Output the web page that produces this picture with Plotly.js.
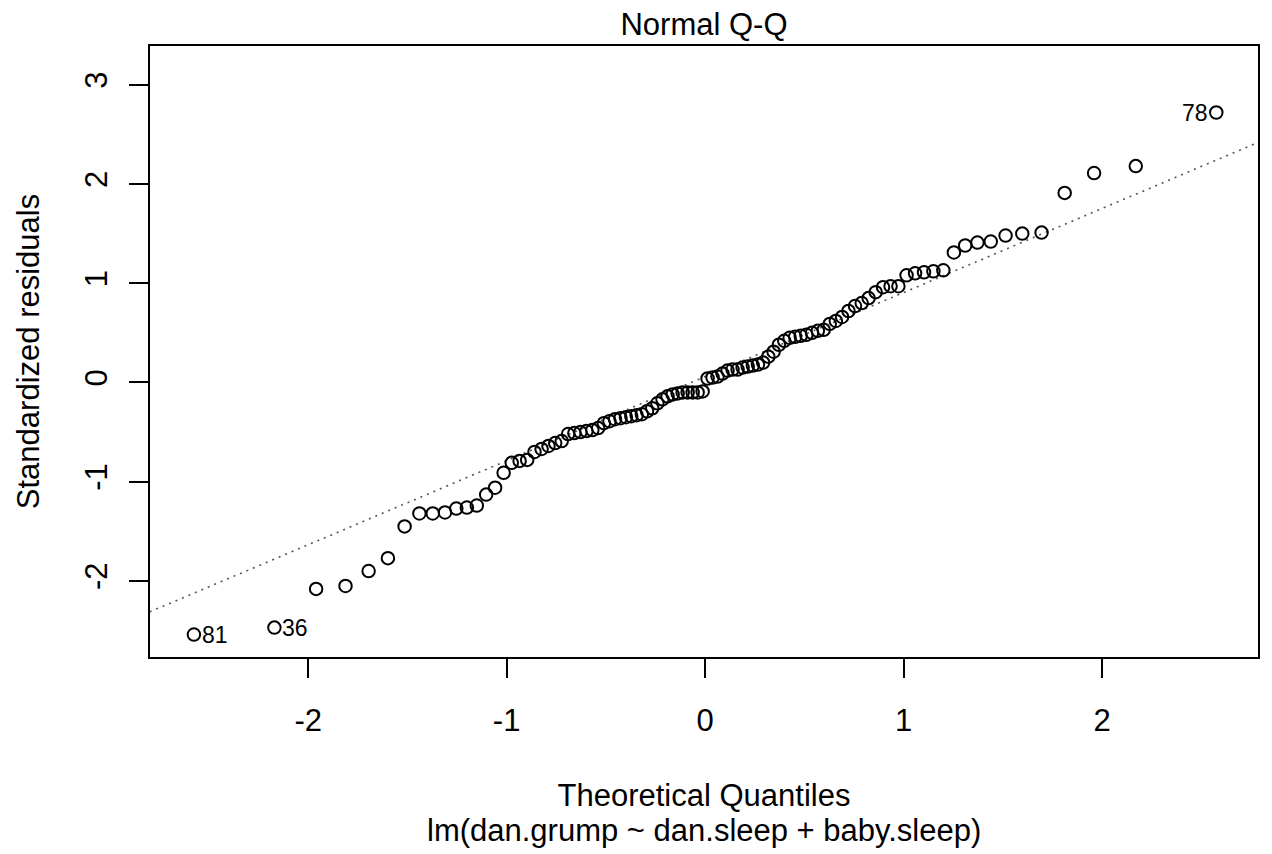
<!DOCTYPE html>
<html>
<head>
<meta charset="utf-8">
<script src="https://cdn.plot.ly/plotly-3.0.1.min.js"></script>
<style>html,body{margin:0;padding:0;background:#fff;}#chart{width:1272px;height:854px;}</style>
</head>
<body>
<div id="chart"></div>
<script>
// Theoretical normal quantiles (x) read/known for n = 100
var theoretical = [-2.5758,-2.1701,-1.9600,-1.8119,-1.6954,-1.5982,-1.5141,-1.4395,-1.3722,-1.3106,
  -1.2536,-1.2004,-1.1503,-1.1031,-1.0581,-1.0152,-0.9741,-0.9346,-0.8965,-0.8596,
  -0.8239,-0.7892,-0.7554,-0.7225,-0.6903,-0.6588,-0.6280,-0.5978,-0.5681,-0.5388,
  -0.5101,-0.4817,-0.4538,-0.4261,-0.3989,-0.3719,-0.3451,-0.3186,-0.2924,-0.2663,
  -0.2404,-0.2147,-0.1891,-0.1637,-0.1383,-0.1130,-0.0878,-0.0627,-0.0376,-0.0125,
  0.0125,0.0376,0.0627,0.0878,0.1130,0.1383,0.1637,0.1891,0.2147,0.2404,
  0.2663,0.2924,0.3186,0.3451,0.3719,0.3989,0.4261,0.4538,0.4817,0.5101,
  0.5388,0.5681,0.5978,0.6280,0.6588,0.6903,0.7225,0.7554,0.7892,0.8239,
  0.8596,0.8965,0.9346,0.9741,1.0152,1.0581,1.1031,1.1503,1.2004,1.2536,
  1.3106,1.3722,1.4395,1.5141,1.5982,1.6954,1.8119,1.9600,2.1701,2.5758];

// Sorted standardized residuals (y)
var stdResiduals = [-2.54,-2.47,-2.08,-2.05,-1.90,-1.77,-1.45,-1.32,-1.32,-1.31,
  -1.27,-1.26,-1.24,-1.13,-1.06,-0.91,-0.81,-0.79,-0.78,-0.70,
  -0.67,-0.64,-0.61,-0.59,-0.52,-0.51,-0.50,-0.49,-0.48,-0.46,
  -0.41,-0.39,-0.37,-0.36,-0.35,-0.34,-0.33,-0.32,-0.29,-0.26,
  -0.21,-0.17,-0.14,-0.12,-0.11,-0.10,-0.10,-0.10,-0.10,-0.09,
  0.04,0.05,0.06,0.09,0.12,0.13,0.13,0.15,0.16,0.17,
  0.18,0.20,0.26,0.31,0.38,0.42,0.45,0.46,0.47,0.48,
  0.50,0.52,0.53,0.59,0.62,0.66,0.72,0.77,0.80,0.85,
  0.91,0.96,0.97,0.97,1.08,1.10,1.11,1.12,1.13,1.31,
  1.38,1.41,1.42,1.48,1.50,1.51,1.91,2.11,2.18,2.72];

// Labelled observations: position in sorted list and observation id
var labelIndex = [0, 1, 99];
var labelText = ['81', '36', '78'];
var labelSide = ['right', 'right', 'left'];

var xTicks = [-2, -1, 0, 1, 2];
var yTicks = [-2, -1, 0, 1, 2, 3];

var titleText = 'Normal Q-Q';
var xTitle = 'Theoretical Quantiles';
var yTitle = 'Standardized residuals';
var subCaption = 'lm(dan.grump ~ dan.sleep + baby.sleep)';

// qqline: line through the quartiles (type 7 quantile)
function quantile7(arr, p) {
  var s = arr.slice().sort(function(a,b){return a-b;});
  var h = (s.length - 1) * p, lo = Math.floor(h);
  return s[lo] + (h - lo) * (s[Math.min(lo+1, s.length-1)] - s[lo]);
}
var q1 = quantile7(stdResiduals, 0.25), q3 = quantile7(stdResiduals, 0.75);
var z1 = -0.6744898, z3 = 0.6744898;
var slope = (q3 - q1) / (z3 - z1);
var intercept = q1 - slope * z1;
var lineX = [-4, 4];
var lineY = lineX.map(function(v){ return intercept + slope * v; });

var FONT = '"Liberation Sans", Arial, "DejaVu Sans", sans-serif';

var traces = [
  {
    x: lineX, y: lineY, type: 'scatter', mode: 'lines',
    line: {color: '#555555', width: 1.6, dash: '2px,5px'},
    hoverinfo: 'skip', showlegend: false
  },
  {
    x: theoretical, y: stdResiduals, type: 'scatter', mode: 'markers',
    marker: {symbol: 'circle-open', size: 12.5, color: '#000000', line: {width: 2, color: '#000000'}},
    showlegend: false
  }
];

var annotations = labelIndex.map(function(idx, k){
  var right = labelSide[k] === 'right';
  return {
    x: theoretical[idx], y: stdResiduals[idx], xref: 'x', yref: 'y',
    text: labelText[k], showarrow: false,
    xanchor: right ? 'left' : 'right', yanchor: 'middle',
    xshift: right ? 6 : -6,
    font: {family: FONT, size: 23, color: '#000'}
  };
});
annotations.push({
  x: 0.5, y: (657 - 830) / 611, xref: 'paper', yref: 'paper',
  text: subCaption, showarrow: false, xanchor: 'center', yanchor: 'middle',
  font: {family: FONT, size: 31, color: '#000'}
});

var layout = {
  width: 1272, height: 854,
  margin: {l: 150, r: 14, t: 46, b: 197, pad: 0},
  paper_bgcolor: '#ffffff', plot_bgcolor: '#ffffff',
  font: {family: FONT, size: 31, color: '#000'},
  title: {text: titleText, x: 0.5 * (150 + 1258) / 1272, xanchor: 'center', y: 1 - 24 / 854, yanchor: 'middle',
          font: {family: FONT, size: 31, color: '#000'}},
  xaxis: {
    range: [-2.797, 2.786], tickvals: xTicks, ticktext: xTicks.map(String),
    ticks: 'outside', ticklen: 19, tickwidth: 2, tickcolor: '#000',
    showline: true, linecolor: '#000', linewidth: 2, mirror: true,
    showgrid: false, zeroline: false, ticklabelstandoff: 16,
    tickfont: {family: FONT, size: 31, color: '#000'},
    title: {text: xTitle, standoff: 47, font: {family: FONT, size: 31, color: '#000'}}
  },
  yaxis: {
    range: [-2.766, 3.390], tickvals: yTicks, ticktext: yTicks.map(String),
    ticks: 'outside', ticklen: 19, tickwidth: 2, tickcolor: '#000', tickangle: -90,
    showline: true, linecolor: '#000', linewidth: 2, mirror: true,
    showgrid: false, zeroline: false, ticklabelstandoff: 10,
    tickfont: {family: FONT, size: 31, color: '#000'},
    title: {text: yTitle, standoff: 30, font: {family: FONT, size: 31, color: '#000'}}
  },
  annotations: annotations,
  hovermode: false
};

Plotly.newPlot('chart', traces, layout, {displayModeBar: false, staticPlot: true});
</script>
</body>
</html>
